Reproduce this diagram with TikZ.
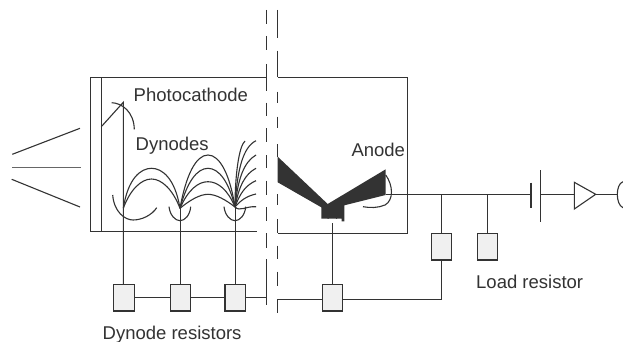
\documentclass[tikz,border=0pt]{standalone}
\usepackage{fontspec}
\setmainfont{Liberation Sans}
\definecolor{ink}{HTML}{333333}
\tikzset{
  wire/.style={draw=ink,line width=1.1pt},
  res/.style={draw=ink,line width=1.1pt,fill=black!6,minimum width=20.5pt,minimum height=26.5pt,inner sep=0pt},
  lab/.style={anchor=base west,inner sep=0pt,text=ink,font=\fontsize{18.5}{20}\selectfont},
  tube/.style={wire},
}
\begin{document}
\begin{tikzpicture}[x=1pt,y=-1pt]
\useasboundingbox[fill=white] (0,0) rectangle (623,342);
% labels
\node[lab] (photo) at (133.5,101.7) {Photocathode};
\node[lab] (dyn) at (135.5,150) {Dynodes};
\node[lab] (ano) at (351.3,156.7) {Anode};
\node[lab] (load) at (476,288.3) {Load resistor};
\node[lab] (dres) at (102.5,339) {Dynode resistors};
% resistors
\node[res] (r1) at (123.8,297.7) {};
\node[res] (r2) at (180.3,297.7) {};
\node[res] (r3) at (235.2,297.7) {};
\node[res] (r4) at (332.6,297.7) {};
\node[res] (r5) at (441.5,246.7) {};
\node[res] (r6) at (487.3,246.7) {};
% named points
\coordinate (d1) at (123.3,208.3);
\coordinate (d2) at (180,208.3);
\coordinate (d3) at (235,207);
\coordinate (cat) at (101.3,126.7);
\coordinate (peak) at (123.3,102.3);
\coordinate (ll) at (266.3,297.7);
\coordinate (lr) at (278,299.3);
\coordinate (an) at (386,194.7);
\coordinate (c1) at (531,194.7);
\coordinate (c2) at (540.7,194.3);
\coordinate (t1) at (574.3,194.3);
\coordinate (t2) at (595.7,194.3);
\coordinate (sp) at (617.3,194.3);
% light rays
\draw[wire] (12.3,154.3) -- (80,128.3);
\draw[draw=ink!75,line width=1.4pt] (12.3,167.7) -- (80.7,167.7);
\draw[wire] (11.7,179.3) -- (80,207);
% left tube
\draw[tube] (266.3,77.3) -- (90.7,77.3) -- (90.7,231.7) -- (257.3,231.7);
\draw[tube] (101.3,77.3) -- (101.3,231.7);
% right tube
\draw[tube] (277.7,77.3) -- (407.7,77.3) -- (407.7,233.3) -- (277.7,233.3);
% dashed separators
\foreach \a/\b in {10/24,36/50,64/90.7,102.7/116,128/142,155/168,180.7/195,207/221,233/248,259/305}
  \draw[wire] (266.3,\a) -- (266.3,\b);
\foreach \a/\b in {10/38,50.7/77.3,91.7/103.3,116.7/128.3,144/157,194/205,219/233.3,245.7/259.3,271.7/286,299.3/313}
  \draw[wire] (277.7,\a) -- (277.7,\b);
% cathode ray and focus arc
\draw[wire] (cat) -- (peak) -- (r1.north -| peak);
\draw[wire] (111.7,102.7) .. controls (122,103) and (134,112) .. (134.3,129.3);
% dynode cups
\draw[wire] (112.7,195) .. controls (114,212) and (125,220) .. (133,220) .. controls (142,220) and (152,215) .. (156.7,207.7);
\draw[wire] (169,206.7) .. controls (170,215) and (175,220.7) .. (180,220.7) .. controls (185,220.7) and (190,215) .. (190.7,206.7);
\draw[wire] (224,206.7) .. controls (225,215) and (230,220.7) .. (235,220.7) .. controls (240,220.7) and (245,215) .. (245.7,206.7);
% electron paths
\draw[wire] (d1) .. controls (128,178) and (141,168.3) .. (151.5,168.3) .. controls (162,168.3) and (175,178) .. (d2);
\draw[wire] (d1) .. controls (130,190) and (141,179) .. (151.5,179) .. controls (162,179) and (173,190) .. (d2);
\draw[wire] (d2) .. controls (186,175) and (196,155) .. (208,155) .. controls (220,155) and (230,175) .. (d3);
\draw[wire] (d2) .. controls (187,182) and (197,168.3) .. (208,168.3) .. controls (219,168.3) and (229,182) .. (d3);
\draw[wire] (d2) .. controls (188,190) and (198,181.7) .. (208,181.7) .. controls (218,181.7) and (228,190) .. (d3);
\draw[wire] (d2) .. controls (190,200) and (200,194.3) .. (208,194.3) .. controls (216,194.3) and (226,200) .. (d3);
\draw[wire] (d3) .. controls (235,175) and (239,146) .. (245,141);
\draw[wire] (d3) .. controls (237,170) and (243,147) .. (256,140.7);
\draw[wire] (d3) .. controls (238,178) and (244,162) .. (256,155);
\draw[wire] (d3) .. controls (239,186) and (245,174) .. (256,168.3);
\draw[wire] (d3) .. controls (240,193) and (246,185) .. (256,180.7);
\draw[wire] (d3) .. controls (241,200) and (247,196) .. (256,194);
\draw[wire] (d3) .. controls (240,212) and (246,206) .. (256,206.7);
% anode
\fill[ink] (277.7,156.7) -- (327.7,204) -- (385.7,169.3) -- (385.7,195) -- (344.3,205.3) -- (344.3,221.3) -- (341.7,221.3) -- (341.7,218.7) -- (321.3,218.7) -- (321.3,207.3) -- (277.7,182.3) -- cycle;
\draw[wire] (327.9,218.7) arc[start angle=180,end angle=360,radius=4.4];
\draw[wire] (385.7,175) .. controls (393,185) and (394,200) .. (385,205) .. controls (378,208) and (370,208) .. (363,206.7);
% vertical leads
\draw[wire] (r2.north) -- (r2.north |- d2);
\draw[wire] (r3.north) -- (r3.north |- d3);
\draw[wire] (r4.north) -- (332.6,223);
% resistor chain
\draw[wire] (r1) -- (r2);
\draw[wire] (r2) -- (r3);
\draw[wire] (r3) -- (ll);
\draw[wire] (lr) -- (r4.west |- lr);
\draw[wire] (r4.east |- lr) -- (441.5,299.3) -- (r5.south);
% output line
\draw[wire] (an) -- (c1);
\draw[wire] (r5.north) -- (r5.north |- an);
\draw[wire] (r6.north) -- (r6.north |- an);
\draw[draw=ink,line width=1.2pt] (531,182.7) -- (531,208.3);
\draw[draw=ink,line width=1.2pt] (540.7,170) -- (540.7,221.7);
\draw[wire] (c2) -- (t1);
\draw[wire] (574.3,182.3) -- (t2) -- (574.3,209) -- cycle;
\draw[wire] (t2) -- (sp);
\draw[wire] (623,181.7) .. controls (619,183) and (617.3,189) .. (sp) .. controls (617.3,200) and (619,206) .. (623,207.7);
\end{tikzpicture}
\end{document}
